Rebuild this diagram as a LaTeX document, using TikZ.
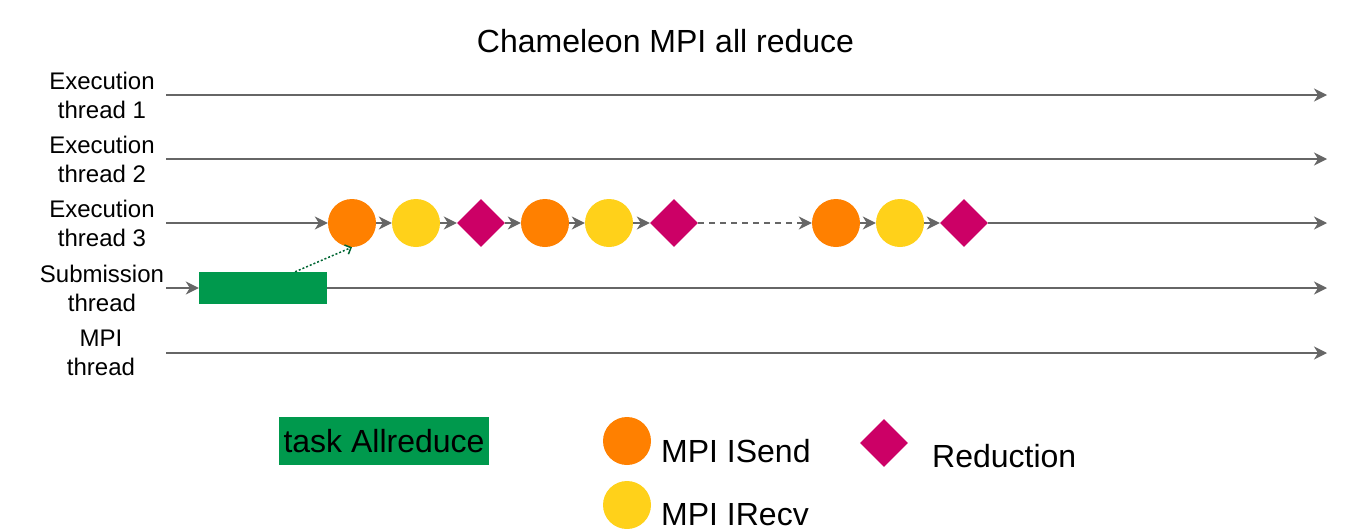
\documentclass[tikz,border=0pt]{standalone}
\usepackage{fontspec}
\setmainfont{Liberation Sans}
\usetikzlibrary{arrows.meta,shapes.geometric,calc}
\definecolor{linegray}{HTML}{666666}
\definecolor{sendorange}{HTML}{FF8000}
\definecolor{recvyellow}{HTML}{FFD11A}
\definecolor{redmagenta}{HTML}{CC0066}
\definecolor{taskgreen}{HTML}{00994D}
\definecolor{darkgreen}{HTML}{006633}
\begin{document}
\begin{tikzpicture}[x=1pt,y=-1pt,
  tl/.style={draw=linegray,line width=1.5pt,-{Stealth[length=13pt,width=13pt,inset=4pt]}},
  rowlabel/.style={align=center,inner sep=0pt,font=\fontsize{24}{29}\selectfont},
  legtext/.style={inner sep=0pt,anchor=base west,font=\fontsize{32}{38}\selectfont},
  sendc/.style={circle,fill=sendorange,minimum size=48pt,inner sep=0pt},
  recvc/.style={circle,fill=recvyellow,minimum size=48pt,inner sep=0pt},
  redd/.style={diamond,fill=redmagenta,minimum width=48pt,minimum height=48pt,inner sep=0pt},
]
\useasboundingbox (0,0) rectangle (1353,528);

\node[inner sep=0pt,anchor=base,font=\fontsize{32}{38}\selectfont] (title) at (665.5,52) {Chameleon MPI all reduce};

% row labels
\node[rowlabel] (l1) at (102,95) {Execution\\thread 1};
\node[rowlabel] (l2) at (102,159) {Execution\\thread 2};
\node[rowlabel] (l3) at (102,223) {Execution\\thread 3};
\node[rowlabel] (l4) at (102,288) {Submission\\thread};
\node[rowlabel] (l5) at (101,353) {MPI\\thread};

% line endpoints
\coordinate (s1) at (166,95);  \coordinate (e1) at (1327,95);
\coordinate (s2) at (166,159); \coordinate (e2) at (1327,159);
\coordinate (s3) at (166,223); \coordinate (e3) at (1327,223);
\coordinate (s4) at (166,288); \coordinate (e4) at (1327,288);
\coordinate (s5) at (166,353); \coordinate (e5) at (1327,353);

\draw[tl] (s1) -- (e1);
\draw[tl] (s2) -- (e2);
\draw[tl] (s5) -- (e5);

% thread 3 elements
\node[sendc] (o1) at (352,223) {};
\node[recvc] (y1) at (416,223) {};
\node[redd]  (r1) at (481,223) {};
\node[sendc] (o2) at (545,223) {};
\node[recvc] (y2) at (609,223) {};
\node[redd]  (r2) at (674,223) {};
\node[sendc] (o3) at (836,223) {};
\node[recvc] (y3) at (900,223) {};
\node[redd]  (r3) at (964,223) {};

\draw[tl] (s3) -- (o1);
\draw[tl] (o1) -- (y1);
\draw[tl] (y1) -- (r1);
\draw[tl] (r1) -- (o2);
\draw[tl] (o2) -- (y2);
\draw[tl] (y2) -- (r2);
\draw[tl,dash pattern=on 6pt off 5pt] (r2) -- (o3);
\draw[tl] (o3) -- (y3);
\draw[tl] (y3) -- (r3);
\draw[tl] (r3) -- (e3);

% submission thread
\node[fill=taskgreen,minimum width=128pt,minimum height=32pt,inner sep=0pt] (task) at (263,288) {};
\draw[tl] (s4) -- (task);
\draw[tl] (task) -- (e4);
\coordinate (tk) at ($(task.north west)!0.75!(task.north east)$);
\draw[darkgreen,line width=1.5pt,dash pattern=on 2pt off 2pt,-{Straight Barb[length=5pt,width=10pt]}] (tk) -- (o1.south);

% legend
\node[fill=taskgreen,minimum width=210pt,minimum height=48pt,inner sep=0pt,font=\fontsize{32}{38}\selectfont] (legtask) at (384,441) {task Allreduce};
\node[sendc] (lego) at (627,441) {};
\node[legtext] (legotext) at (661,462) {MPI ISend};
\node[recvc] (legy) at (627,505) {};
\node[legtext] (legytext) at (661,525) {MPI IRecv};
\node[redd] (legr) at (884,443) {};
\node[legtext] (legrtext) at (932,467) {Reduction};
\end{tikzpicture}
\end{document}
